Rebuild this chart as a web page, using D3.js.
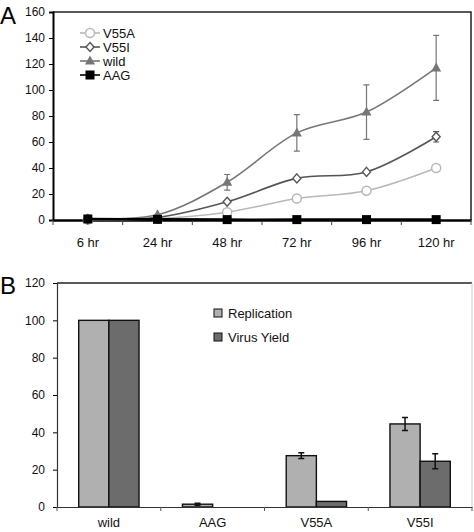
<!DOCTYPE html>
<html><head><meta charset="utf-8">
<script src="https://cdn.jsdelivr.net/npm/d3@7"></script>
<style>body{margin:0;background:#fff}svg{display:block;font-family:"Liberation Sans",Arial,sans-serif}</style>
</head><body><svg id="c" width="474" height="532"></svg>
<script>
// Panel A data
const timeLabels = ["6 hr","24 hr","48 hr","72 hr","96 hr","120 hr"];
const v55aValues = [0.3, 1, 6, 16.5, 22.5, 40];
const v55aErr    = [0, 0, 0, 0, 0, 0];
const v55iValues = [0.5, 2, 14, 32, 37, 64];
const v55iErr    = [0, 0, 0, 0, 0, 4];
const wildValues = [1, 4, 29, 67, 83, 117];
const wildErr    = [0, 0, 6, 14, 21, 25];
const aagValues  = [0.8, 0.5, 0.3, 0.3, 0.3, 0.3];
const yTicksA = [0,20,40,60,80,100,120,140,160];

// Panel B data
const groups = ["wild","AAG","V55A","V55I"];
const replicationValues = [100, 1.5, 27.5, 44.5];
const replicationErr    = [0, 0.5, 1.5, 3.5];
const yieldValues       = [100, 0, 3, 24.5];
const yieldErr          = [0, 0, 0, 4];
const yTicksB = [0,20,40,60,80,100,120];

const svg = d3.select("#c");

// ---------- Panel A ----------
const A = {l:53, r:471, t:12, b:220};
const xA = d3.scaleBand().domain(timeLabels).range([A.l, A.r]).padding(0);
const yA = d3.scaleLinear().domain([0,160]).range([A.b, A.t]);
const cx = d => xA(d) + xA.bandwidth()/2;

const gA = svg.append("g");
gA.append("path").attr("d", `M${A.l},${A.t}H${A.r}V${A.b}`).attr("fill","none").attr("stroke","#222").attr("stroke-width",1.5);
const yAxA = gA.append("g").attr("transform",`translate(${A.l},0)`)
  .call(d3.axisLeft(yA).tickValues(yTicksA).tickSize(4).tickPadding(4));
yAxA.select(".domain").attr("stroke","#000").attr("stroke-width",2);
yAxA.selectAll("text").attr("font-size",12).attr("fill","#111");
const xAxA = gA.append("g").attr("transform",`translate(0,${A.b})`)
  .call(d3.axisBottom(xA).tickSize(0).tickPadding(18));
xAxA.select(".domain").attr("stroke","#000").attr("stroke-width",2.5);
xAxA.selectAll("text").attr("font-size",13).attr("fill","#111");
gA.append("g").selectAll("line").data(d3.range(timeLabels.length+1)).join("line")
  .attr("x1",i=>A.l + i*xA.bandwidth()).attr("x2",i=>A.l + i*xA.bandwidth())
  .attr("y1",A.b).attr("y2",A.b+5).attr("stroke","#444");

const line = d3.line().x((d,i)=>cx(timeLabels[i])).y(d=>yA(d)).curve(d3.curveCatmullRom.alpha(0.5));

function errBars(g, vals, errs, color){
  const d = vals.map((v,i)=>({v, e:errs[i], x:cx(timeLabels[i])})).filter(d=>d.e>0);
  g.selectAll(null).data(d).join("path")
    .attr("d", d=>`M${d.x},${yA(d.v+d.e)}V${yA(d.v-d.e)}M${d.x-3},${yA(d.v+d.e)}h6M${d.x-3},${yA(d.v-d.e)}h6`)
    .attr("stroke",color).attr("stroke-width",1.2).attr("fill","none");
}

const series = [
  {name:"V55A", vals:v55aValues, errs:v55aErr, color:"#b8b8b8", marker:"circle"},
  {name:"V55I", vals:v55iValues, errs:v55iErr, color:"#555", marker:"diamond"},
  {name:"wild", vals:wildValues, errs:wildErr, color:"#767676", marker:"triangle"},
  {name:"AAG",  vals:aagValues,  errs:[0,0,0,0,0,0], color:"#000", marker:"square"}
];

function drawMarker(g, type, color, x, y){
  if(type==="circle"){
    g.append("circle").attr("cx",x).attr("cy",y).attr("r",4.5).attr("fill","#fff").attr("stroke",color).attr("stroke-width",1.5);
  } else if(type==="diamond"){
    g.append("path").attr("d",`M${x},${y-4.5}L${x+4},${y}L${x},${y+4.5}L${x-4},${y}Z`).attr("fill","#fff").attr("stroke",color).attr("stroke-width",1.4);
  } else if(type==="triangle"){
    g.append("path").attr("d",`M${x},${y-5.5}L${x+5},${y+3.5}L${x-5},${y+3.5}Z`).attr("fill",color);
  } else {
    g.append("rect").attr("x",x-4.5).attr("y",y-4.5).attr("width",9).attr("height",9).attr("fill",color);
  }
}

const plotG = gA.append("g");
series.forEach(s=>{
  errBars(plotG, s.vals, s.errs, s.color);
  plotG.append("path").datum(s.vals).attr("d",line).attr("fill","none")
    .attr("stroke",s.color).attr("stroke-width", s.name==="AAG"?2.5:1.6);
  s.vals.forEach((v,i)=>drawMarker(plotG, s.marker, s.color, cx(timeLabels[i]), yA(v)));
});

const legA = gA.append("g");
series.forEach((s,i)=>{
  const y = 33 + i*14;
  legA.append("line").attr("x1",80).attr("x2",100).attr("y1",y).attr("y2",y).attr("stroke",s.color).attr("stroke-width",1.6);
  drawMarker(legA, s.marker, s.color, 90, y);
  legA.append("text").attr("x",103).attr("y",y+4.5).attr("font-size",13).attr("fill","#111").text(s.name);
});

svg.append("text").attr("x",0).attr("y",24).attr("font-size",24).attr("fill","#000").text("A");

// ---------- Panel B ----------
const B = {l:57, r:472, t:283, b:507};
const xB = d3.scaleBand().domain(groups).range([B.l, B.r]).padding(0);
const xSub = d3.scaleBand().domain(["Replication","Virus Yield"]).range([0, xB.bandwidth()]).paddingOuter(0.72).paddingInner(0);
const yB = d3.scaleLinear().domain([0,120]).range([B.b, B.t]);
const gB = svg.append("g");
gB.append("line").attr("x1",B.l).attr("x2",B.r).attr("y1",B.t).attr("y2",B.t).attr("stroke","#222").attr("stroke-width",1.5);
gB.append("line").attr("x1",B.r).attr("x2",B.r).attr("y1",B.t).attr("y2",B.b).attr("stroke","#ccc").attr("stroke-width",1);
const yAxB = gB.append("g").attr("transform",`translate(${B.l},0)`)
  .call(d3.axisLeft(yB).tickValues(yTicksB).tickSize(4).tickPadding(8));
yAxB.select(".domain").attr("stroke","#333").attr("stroke-width",1.2);
yAxB.selectAll("text").attr("font-size",12).attr("fill","#111");

const subColors = {"Replication":"#b0b0b0","Virus Yield":"#6c6c6c"};
const barData = [];
groups.forEach((g,i)=>{
  barData.push({g, k:"Replication", v:replicationValues[i], e:replicationErr[i]});
  barData.push({g, k:"Virus Yield", v:yieldValues[i], e:yieldErr[i]});
});
gB.append("g").selectAll("rect").data(barData.filter(d=>d.v>0)).join("rect")
  .attr("x",d=>xB(d.g)+xSub(d.k)).attr("width",xSub.bandwidth())
  .attr("y",d=>yB(d.v)).attr("height",d=>yB(0)-yB(d.v))
  .attr("fill",d=>subColors[d.k]).attr("stroke","#111").attr("stroke-width",1.4);
gB.append("g").selectAll("path").data(barData.filter(d=>d.e>0)).join("path")
  .attr("d",d=>{const x=xB(d.g)+xSub(d.k)+xSub.bandwidth()/2;
    return `M${x},${yB(d.v+d.e)}V${yB(d.v-d.e)}M${x-3},${yB(d.v+d.e)}h6M${x-3},${yB(d.v-d.e)}h6`;})
  .attr("stroke","#111").attr("stroke-width",1.5).attr("fill","none");

const xAxB = gB.append("g").attr("transform",`translate(0,${B.b})`)
  .call(d3.axisBottom(xB).tickSize(0).tickPadding(11));
xAxB.select(".domain").attr("stroke","#333").attr("stroke-width",1.2);
xAxB.selectAll("text").attr("font-size",13).attr("fill","#111");
gB.append("g").selectAll("line").data(d3.range(groups.length+1)).join("line")
  .attr("x1",i=>B.l+i*xB.bandwidth()).attr("x2",i=>B.l+i*xB.bandwidth())
  .attr("y1",B.b).attr("y2",B.b+4).attr("stroke","#555");

["Replication","Virus Yield"].forEach((k,i)=>{
  const y = 313 + i*24;
  gB.append("rect").attr("x",214).attr("y",y-4).attr("width",8).attr("height",8)
    .attr("fill",subColors[k]).attr("stroke","#111").attr("stroke-width",1);
  gB.append("text").attr("x",228).attr("y",y+5).attr("font-size",13).attr("fill","#111").text(k);
});

svg.append("text").attr("x",0).attr("y",294).attr("font-size",24).attr("fill","#000").text("B");
</script></body></html>
